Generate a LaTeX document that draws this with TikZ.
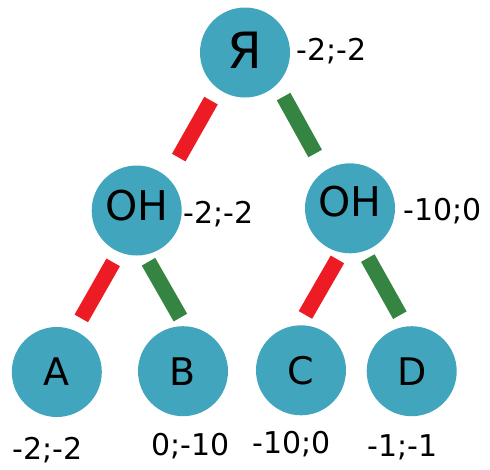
\documentclass[tikz,border=0pt]{standalone}
\usepackage{fontspec}
\setmainfont{DejaVu Sans}
\usepackage{xcolor}
\usepackage{tikz}
\usetikzlibrary{positioning}
\definecolor{nodeteal}{HTML}{41A6BD}
\definecolor{movered}{HTML}{ED1C24}
\definecolor{movegreen}{HTML}{368442}

\begin{document}
\begin{tikzpicture}[x=1pt, y=-1pt,
    player/.style={circle, fill=nodeteal, minimum size=90pt, inner sep=0pt, outer sep=0pt, font=\fontsize{41}{41}\selectfont},
    leaf/.style={player, font=\fontsize{38}{38}\selectfont},
    payoff/.style={anchor=base, inner sep=0pt, font=\fontsize{30}{30}\selectfont},
    redbar/.style={draw=movered, line width=15.5pt},
    greenbar/.style={draw=movegreen, line width=15.5pt}
]
    \useasboundingbox (0,0) rectangle (490,469);

    % players
    \node[player, font=\fontsize{50}{50}\selectfont, text depth=5pt] (ya) at (245,52.5) {Я};
    \node[player, text depth=11pt] (oh1) at (136.7,210.5) {OH};
    \node[player, text depth=15pt] (oh2) at (350,208.3) {OH};

    \node[leaf] (nA) at (56.8,372) {A};
    \node[leaf] (nB) at (183,371.2) {B};
    \node[leaf] (nC) at (301,370.3) {C};
    \node[leaf] (nD) at (411.7,371.2) {D};

    % payoffs
    \node[payoff] (pya) at (331.7,60) {-2;-2};
    \node[payoff] (poh1) at (218.3,223.3) {-2;-2};
    \node[payoff] (poh2) at (442.8,220) {-10;0};
    \node[payoff] (pA) at (47.2,459) {-2;-2};
    \node[payoff] (pB) at (190.8,455) {0;-10};
    \node[payoff] (pC) at (291.3,453.3) {-10;0};
    \node[payoff] (pD) at (402.5,456.7) {-1;-1};

    % moves
    \draw[redbar, shorten <=14pt, shorten >=23pt] (ya.-127) -- (oh1.47);
    \draw[greenbar, shorten <=14pt, shorten >=20pt] (ya.-45) -- (oh2.124);
    \draw[redbar, shorten <=12pt, shorten >=14pt] (oh1.-113) -- (nA.67);
    \draw[greenbar, shorten <=8pt, shorten >=10pt] (oh1.-80) -- (nB.87);
    \draw[redbar, shorten <=8pt, shorten >=12pt] (oh2.-101) -- (nC.92);
    \draw[greenbar, shorten <=8pt, shorten >=13pt] (oh2.-72) -- (nD.97);
\end{tikzpicture}
\end{document}
